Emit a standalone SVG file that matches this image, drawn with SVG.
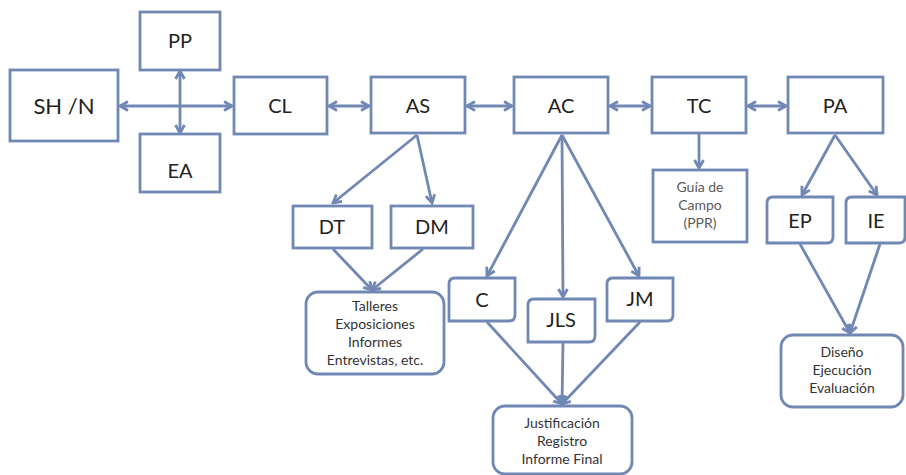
<svg xmlns="http://www.w3.org/2000/svg" width="906" height="475" viewBox="0 0 906 475">
<style>
.box{fill:#fff;stroke:#7088b3;stroke-width:2.8}
.ln{fill:none;stroke:#7088b3;stroke-width:2.8}
.lb{font-family:Lato,"Open Sans",sans-serif;font-size:20px;fill:#222;text-anchor:middle}
.big{font-size:22px}
.sm{font-family:Lato,"Open Sans",sans-serif;font-size:14px;fill:#333;text-anchor:middle}
.gr{fill:#5a5a5a}
</style>
<defs>
<marker id="ah" viewBox="0 0 12 12" refX="10" refY="6" markerWidth="12" markerHeight="12" markerUnits="userSpaceOnUse" orient="auto-start-reverse">
<path d="M2,1.5 L10,6 L2,10.5" fill="none" stroke="#7088b3" stroke-width="2.8" stroke-linejoin="miter"/>
</marker>
</defs>
<rect width="906" height="475" fill="#fff"/>
<g id="connectors">
<line class="ln" x1="120" y1="106" x2="232" y2="106" marker-start="url(#ah)" marker-end="url(#ah)"/>
<line class="ln" x1="180" y1="71" x2="180" y2="133" marker-start="url(#ah)" marker-end="url(#ah)"/>
<line class="ln" x1="329" y1="106" x2="369" y2="106" marker-start="url(#ah)" marker-end="url(#ah)"/>
<line class="ln" x1="467" y1="106" x2="512" y2="106" marker-start="url(#ah)" marker-end="url(#ah)"/>
<line class="ln" x1="610" y1="106" x2="650" y2="106" marker-start="url(#ah)" marker-end="url(#ah)"/>
<line class="ln" x1="748" y1="106" x2="786" y2="106" marker-start="url(#ah)" marker-end="url(#ah)"/>
<line class="ln" x1="417" y1="135" x2="333" y2="203" marker-end="url(#ah)"/>
<line class="ln" x1="417" y1="135" x2="432" y2="203" marker-end="url(#ah)"/>
<line class="ln" x1="333" y1="249" x2="372" y2="290" marker-end="url(#ah)"/>
<line class="ln" x1="423" y1="249" x2="372" y2="290" marker-end="url(#ah)"/>
<line class="ln" x1="562" y1="135" x2="487" y2="276" marker-end="url(#ah)"/>
<line class="ln" x1="562" y1="135" x2="563" y2="297" marker-end="url(#ah)"/>
<line class="ln" x1="562" y1="135" x2="639" y2="276" marker-end="url(#ah)"/>
<line class="ln" x1="487" y1="322" x2="562" y2="404" marker-end="url(#ah)"/>
<line class="ln" x1="563" y1="343" x2="562" y2="404" marker-end="url(#ah)"/>
<line class="ln" x1="640" y1="322" x2="562" y2="404" marker-end="url(#ah)"/>
<line class="ln" x1="699" y1="134" x2="699" y2="168" marker-end="url(#ah)"/>
<line class="ln" x1="835" y1="135" x2="802" y2="195" marker-end="url(#ah)"/>
<line class="ln" x1="835" y1="135" x2="877" y2="195" marker-end="url(#ah)"/>
<line class="ln" x1="800" y1="244" x2="850" y2="333" marker-end="url(#ah)"/>
<line class="ln" x1="880" y1="244" x2="850" y2="333" marker-end="url(#ah)"/>
</g>
<g id="SHN"><rect class="box" x="10" y="70" width="108" height="71"/><text class="lb big" x="64" y="114">SH /N</text></g>
<g id="PP"><rect class="box" x="140" y="12" width="80" height="58"/><text class="lb" x="180" y="48">PP</text></g>
<g id="EA"><rect class="box" x="140" y="134" width="80" height="58"/><text class="lb" x="180" y="178">EA</text></g>
<g id="CL"><rect class="box" x="234" y="77" width="93" height="57"/><text class="lb" x="280" y="113">CL</text></g>
<g id="AS"><rect class="box" x="371" y="77" width="94" height="56"/><text class="lb" x="418" y="113">AS</text></g>
<g id="AC"><rect class="box" x="514" y="77" width="94" height="56"/><text class="lb" x="561" y="113">AC</text></g>
<g id="TC"><rect class="box" x="652" y="77" width="94" height="56"/><text class="lb" x="699" y="113">TC</text></g>
<g id="PA"><rect class="box" x="788" y="77" width="95" height="56"/><text class="lb" x="835" y="113">PA</text></g>
<g id="DT"><rect class="box" x="293" y="206" width="79" height="42"/><text class="lb" x="332" y="234">DT</text></g>
<g id="DM"><rect class="box" x="391" y="206" width="82" height="42"/><text class="lb" x="432" y="234">DM</text></g>
<g id="Talleres"><rect class="box" x="306" y="292" width="138" height="82" rx="12"/>
<text class="sm" x="375" y="311">Talleres</text><text class="sm" x="375" y="329">Exposiciones</text><text class="sm" x="375" y="347">Informes</text><text class="sm" x="375" y="365">Entrevistas, etc.</text></g>
<g id="C"><path class="box" d="M455,278 H515 V315 Q515,321 509,321 H449 V284 Q449,278 455,278 Z"/><text class="lb" x="482" y="307">C</text></g>
<g id="JLS"><path class="box" d="M534,299 H595 V336 Q595,342 589,342 H528 V305 Q528,299 534,299 Z"/><text class="lb" x="561" y="327">JLS</text></g>
<g id="JM"><path class="box" d="M613,278 H673 V315 Q673,321 667,321 H607 V284 Q607,278 613,278 Z"/><text class="lb" x="640" y="306">JM</text></g>
<g id="Justificacion"><rect class="box" x="493" y="406" width="139" height="68" rx="12"/>
<text class="sm" x="562" y="428">Justificación</text><text class="sm" x="562" y="446">Registro</text><text class="sm" x="562" y="464">Informe Final</text></g>
<g id="Guia"><rect class="box" x="653" y="170" width="94" height="72"/>
<text class="sm gr" x="700" y="192">Guía de</text><text class="sm gr" x="700" y="210">Campo</text><text class="sm gr" x="700" y="228">(PPR)</text></g>
<g id="EP"><path class="box" d="M773,197 H833 V237 Q833,243 827,243 H767 V203 Q767,197 773,197 Z"/><text class="lb" x="800" y="228">EP</text></g>
<g id="IE"><path class="box" d="M852,197 H905 V237 Q905,243 899,243 H846 V203 Q846,197 852,197 Z"/><text class="lb" x="876" y="228">IE</text></g>
<g id="Diseno"><rect class="box" x="781" y="335" width="122" height="72" rx="12"/>
<text class="sm" x="842" y="357">Diseño</text><text class="sm" x="842" y="375">Ejecución</text><text class="sm" x="842" y="393">Evaluación</text></g>
</svg>
